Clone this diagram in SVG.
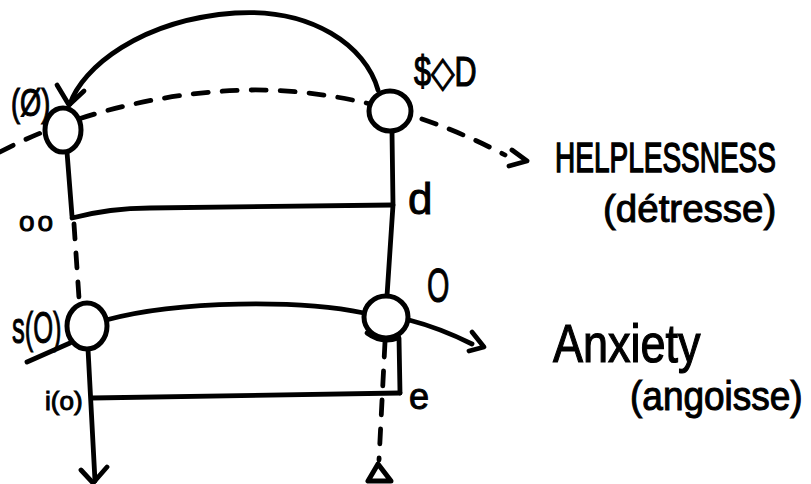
<svg xmlns="http://www.w3.org/2000/svg" width="811" height="484" viewBox="0 0 811 484">
<style>
.ln{stroke:#000;stroke-width:4.8;fill:none;stroke-linecap:round;stroke-linejoin:round}
.dash{stroke-dasharray:15 14}
.node{fill:#fff;stroke:#000;stroke-width:5}
.t{font-family:"Liberation Sans","DejaVu Sans",sans-serif;fill:#000;stroke:#000;stroke-width:1}
</style>
<rect width="811" height="484" fill="#fff"/>
<g id="connectors">
  <path class="ln" d="M70,104 C82,68 140,20 235,13 C312,8 366,46 378,90"/>
  <path class="ln" d="M57,85 L69,105 L84,91"/>
  <path class="ln dash" d="M0,152 C60,120 150,92 250,90 C330,89 420,110 505,155"/>
  <path class="ln" d="M512,150 L527,161 L509,166"/>
  <path class="ln" d="M67,152 L72,216"/>
  <path class="ln" d="M72,218 Q110,208 150,208 L393,205"/>
  <path class="ln dash" d="M74,224 L79,298"/>
  <path class="ln" d="M392,132 L393,205 L387,296"/>
  <path class="ln" d="M27,362 L70,343"/>
  <path class="ln" d="M106,320 C180,300 300,300 364,313"/>
  <path class="ln" d="M409,320 Q440,328 472,344"/>
  <path class="ln" d="M472,332 L484,347 L469,351"/>
  <path class="ln" d="M88,349 L95,481"/>
  <path class="ln" d="M81,470 L93,483 L107,467"/>
  <path class="ln" d="M92,398 L400,393"/>
  <path class="ln" d="M399,338 L400,393"/>
  <path class="ln dash" d="M385,342 L379,460"/>
</g>
<g id="node-SO">
  <ellipse class="node" cx="63" cy="130" rx="18" ry="22"/>
</g>
<g id="node-SD">
  <ellipse class="node" cx="390" cy="111" rx="21" ry="20"/>
</g>
<g id="node-sO">
  <ellipse class="node" cx="87" cy="326" rx="20" ry="23"/>
</g>
<g id="node-O">
  <ellipse class="node" cx="386" cy="317" rx="22" ry="21"/>
  <path class="ln" d="M367,333 Q382,344 398,338"/>
</g>
<g id="node-delta">
  <polygon points="378,464 368,481 391,481" fill="#fff" stroke="#000" stroke-width="5" stroke-linejoin="round"/>
</g>
<g id="labels">
  <text class="t" transform="translate(11,116) scale(0.8,1.15)" font-size="34">(Ø)</text>
  <text class="t" transform="translate(414,86) scale(0.9,1.25)" font-size="34" font-family="DejaVu Sans">$◇D</text>
  <text class="t" x="19" y="231" font-size="28" letter-spacing="3">oo</text>
  <text class="t" x="408" y="214" font-size="44">d</text>
  <text class="t" transform="translate(427,302) scale(0.6,1)" font-size="48">O</text>
  <text class="t" transform="translate(12,343) scale(0.58,1)" font-size="44">s(O)</text>
  <text class="t" x="45" y="410" font-size="26">i(o)</text>
  <text class="t" x="409" y="409" font-size="36">e</text>
  <text class="t" transform="translate(555,172) scale(1,1.5)" font-size="28">HELPLESSNESS</text>
  <text class="t" x="603" y="222" font-size="38.5">(détresse)</text>
  <text class="t" transform="translate(553,362) scale(1,1.2)" font-size="45">Anxiety</text>
  <text class="t" transform="translate(630,410) scale(1,1.1)" font-size="37">(angoisse)</text>
</g>
</svg>
